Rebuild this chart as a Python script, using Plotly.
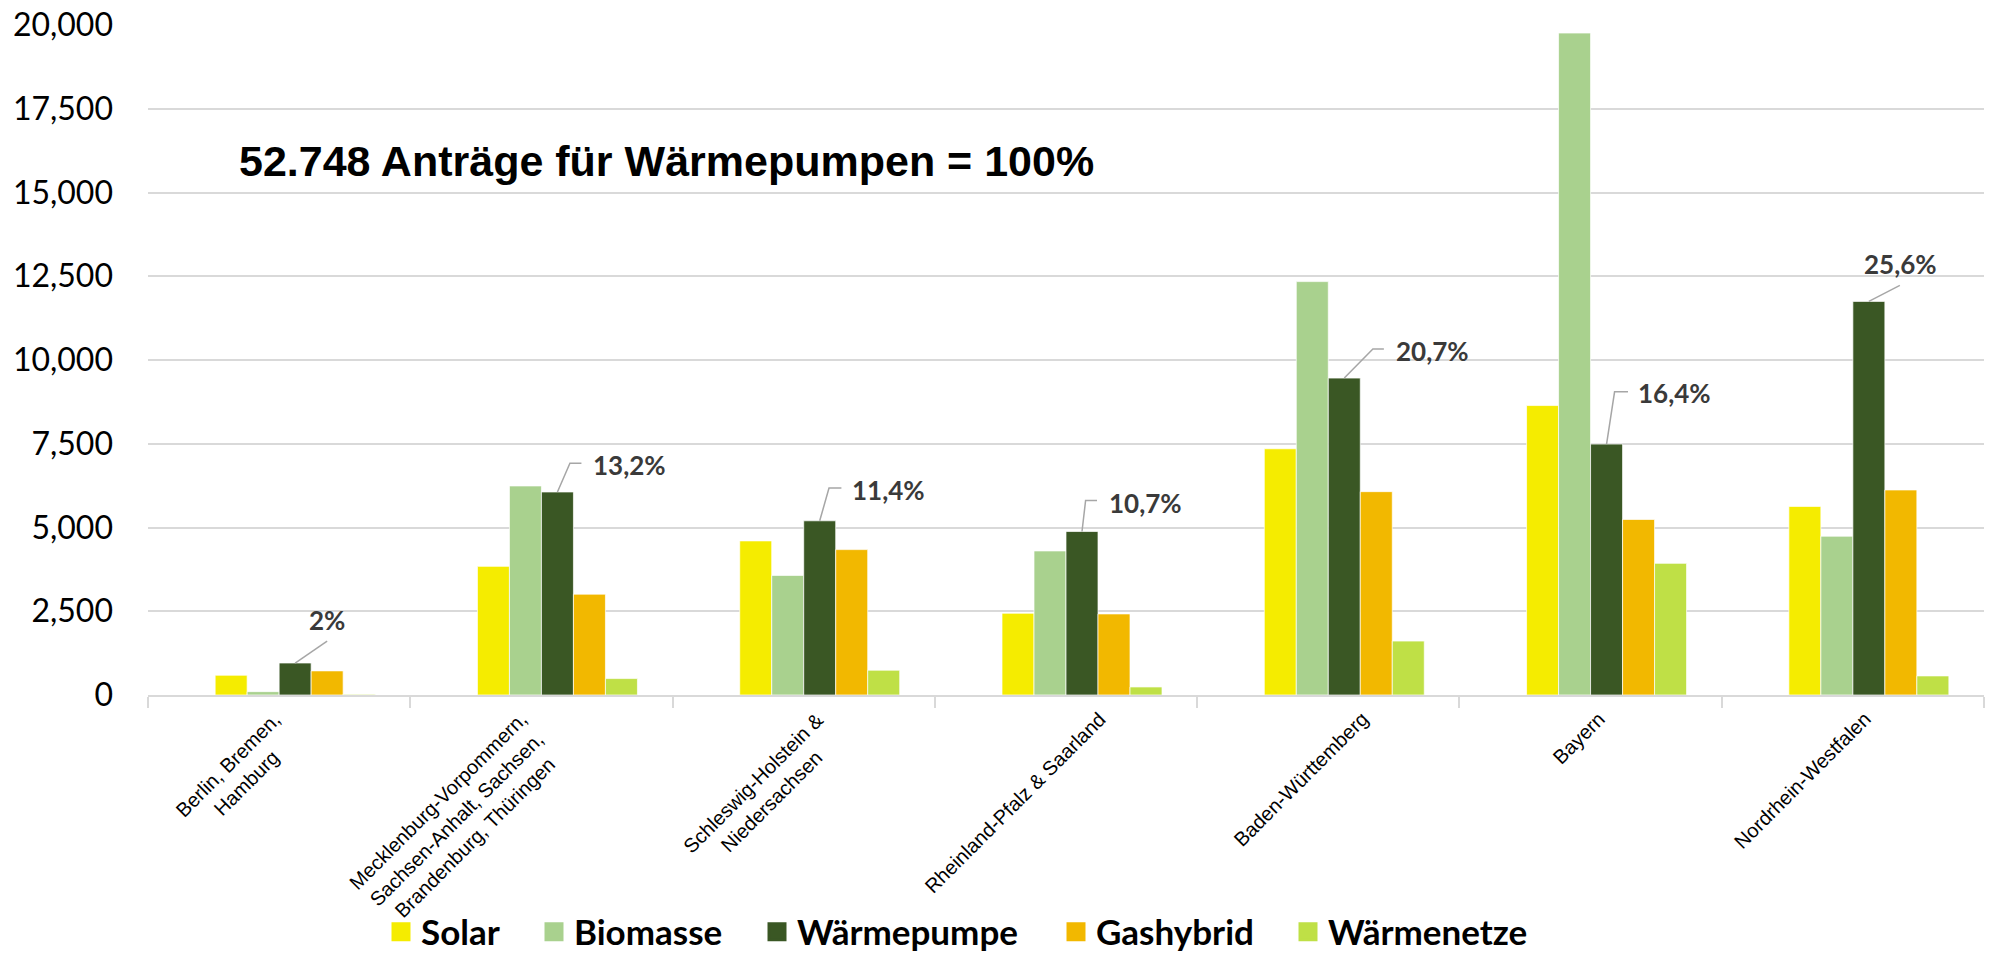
import plotly.graph_objects as go

# ---------------- data ----------------
categories = [
    "Berlin, Bremen,<br>Hamburg",
    "Mecklenburg-Vorpommern,<br>Sachsen-Anhalt, Sachsen,<br>Brandenburg, Thüringen",
    "Schleswig-Holstein &<br>Niedersachsen",
    "Rheinland-Pfalz & Saarland",
    "Baden-Württemberg",
    "Bayern",
    "Nordrhein-Westfalen",
]
series_names = ["Solar", "Biomasse", "Wärmepumpe", "Gashybrid", "Wärmenetze"]
solar = [590, 3840, 4600, 2440, 7350, 8640, 5630]
biomasse = [100, 6240, 3570, 4300, 12340, 19760, 4740]
waermepumpe = [955, 6060, 5200, 4880, 9460, 7490, 11750]
gashybrid = [720, 3010, 4340, 2420, 6070, 5240, 6120]
waermenetze = [20, 490, 740, 240, 1610, 3930, 570]
wp_share_labels = ["2%", "13,2%", "11,4%", "10,7%", "20,7%", "16,4%", "25,6%"]
headline = "52.748 Anträge für Wärmepumpen = 100%"
y_ticks = [0, 2500, 5000, 7500, 10000, 12500, 15000, 17500, 20000]

# ---------------- style ----------------
colors = ["#F5EC00", "#A9D18E", "#3A5724", "#F2B800", "#BFE046"]
values = [solar, biomasse, waermepumpe, gashybrid, waermenetze]
bar_w = 0.122                      # width of one bar in category units
slot_offsets = [-2, -1, 0, 1, 2]   # slot index relative to category center (one empty slot first)

W, H = 1993, 954
ML, MR, MT, MB = 148, 9, 25, 259
plot_w = W - ML - MR
plot_h = H - MT - MB

fig = go.Figure()
x_idx = list(range(len(categories)))
legend_ids = ["legend", "legend2", "legend3", "legend4", "legend5"]
legend_left_px = [381, 534, 757, 1056, 1288]

for name, vals, col, so in zip(series_names, values, colors, slot_offsets):
    fig.add_trace(go.Bar(
        x=x_idx, y=vals, name=name,
        width=bar_w, offset=so * bar_w,
        marker=dict(color=col, line=dict(color="rgba(255,255,255,0.7)", width=1)),
        showlegend=False, legendgroup=name, hoverinfo="y+name",
    ))
# legend proxies (bigger square symbols), one legend box each
for name, col, lid in zip(series_names, colors, legend_ids):
    fig.add_trace(go.Scatter(
        x=[None], y=[None], mode="markers", name=name, legendgroup=name,
        marker=dict(symbol="square", size=16, color=col, line=dict(color=col, width=3)),
        legend=lid,
    ))

annotations = []
shapes = []
# headline
annotations.append(dict(
    text=headline, xref="paper", yref="paper",
    x=(666 - ML) / plot_w, y=(H - MB - 161) / plot_h,
    xanchor="center", yanchor="middle", showarrow=False,
    font=dict(family="Liberation Sans, Arial", size=43, color="#000000", weight="bold"),
))
# share labels with leader lines (pixel offsets from the top centre of the heat-pump bar)
label_pos = [  # (xshift, yshift, xanchor)
    (32, 43, "center"), (33.5, 27, "left"), (30, 31, "left"), (24.7, 29, "left"),
    (49.3, 27, "left"), (29, 51, "left"), (32, 37, "center"),
]
leader_paths = [
    "M0,0 L32,22",
    "M0,0 L12.5,28.7 L24,28.7",
    "M0,0 L9.3,32.7 L21.7,32.7",
    "M0,0 L3.6,31 L15,31",
    "M0,0 L28.6,29 L39.6,29",
    "M0,0 L8,52.3 L21.4,52.3",
    "M0,0 L31,16",
]
for i, (lab, (xs, ys, xa), pth) in enumerate(zip(wp_share_labels, label_pos, leader_paths)):
    anchor_x = i + bar_w / 2
    annotations.append(dict(
        x=anchor_x, y=waermepumpe[i], xref="x", yref="y",
        text=lab, showarrow=False, xanchor=xa, yanchor="middle",
        xshift=xs, yshift=ys,
        font=dict(family="Lato", size=26, color="#3A3A3A", weight="bold"),
    ))
    shapes.append(dict(
        type="path", xref="x", yref="y", xsizemode="pixel", ysizemode="pixel",
        xanchor=anchor_x, yanchor=waermepumpe[i], path=pth,
        line=dict(color="#A6A6A6", width=1.5),
    ))
# rotated, center-aligned category labels
line_h = 26
label_nudge = [-2, -8, 17, 27, 28, 2, 6]
for i, cat in enumerate(categories):
    n_lines = cat.count("<br>") + 1
    h = n_lines * line_h
    annotations.append(dict(
        x=i, y=-10 / plot_h, xref="x", yref="paper",
        text=cat, showarrow=False, textangle=-45, align="center",
        xanchor="right", yanchor="top", xshift=10 + 0.707 * h / 2 + label_nudge[i],
        font=dict(family="Liberation Sans, Arial", size=20, color="#000000"),
    ))

legend_font = dict(family="Lato", size=35, color="#000000", weight="bold")
layout_legends = {}
for lid, lx in zip(legend_ids, legend_left_px):
    layout_legends[lid] = dict(
        orientation="h", xref="container", yref="container",
        x=lx / W, y=1 - 932 / H, xanchor="left", yanchor="middle",
        font=legend_font, itemsizing="trace", bgcolor="rgba(0,0,0,0)",
    )

fig.update_layout(
    width=W, height=H,
    margin=dict(l=ML, r=MR, t=MT, b=MB, pad=0),
    paper_bgcolor="white", plot_bgcolor="white",
    barmode="overlay",
    annotations=annotations,
    shapes=shapes,
    xaxis=dict(
        type="linear", range=[-0.5, len(categories) - 0.5], automargin=False,
        tickvals=[i - 0.5 for i in range(len(categories) + 1)],
        showticklabels=False, showgrid=False, zeroline=False,
        showline=True, linecolor="#D9D9D9", linewidth=2,
        ticks="outside", ticklen=11, tickwidth=2, tickcolor="#D9D9D9",
    ),
    yaxis=dict(
        range=[0, 20000], tickvals=y_ticks, tickformat=",", automargin=False,
        showgrid=True, gridcolor="#D9D9D9", gridwidth=2,
        zeroline=False, showline=False, ticks="",
        ticklabelstandoff=34,
        tickfont=dict(family="Lato", size=32, color="#000000"),
    ),
    **layout_legends,
)

fig.write_html(
    "out.html",
    config={"displayModeBar": False},
    post_script="document.body.style.margin='0';document.body.style.overflow='hidden';",
)
